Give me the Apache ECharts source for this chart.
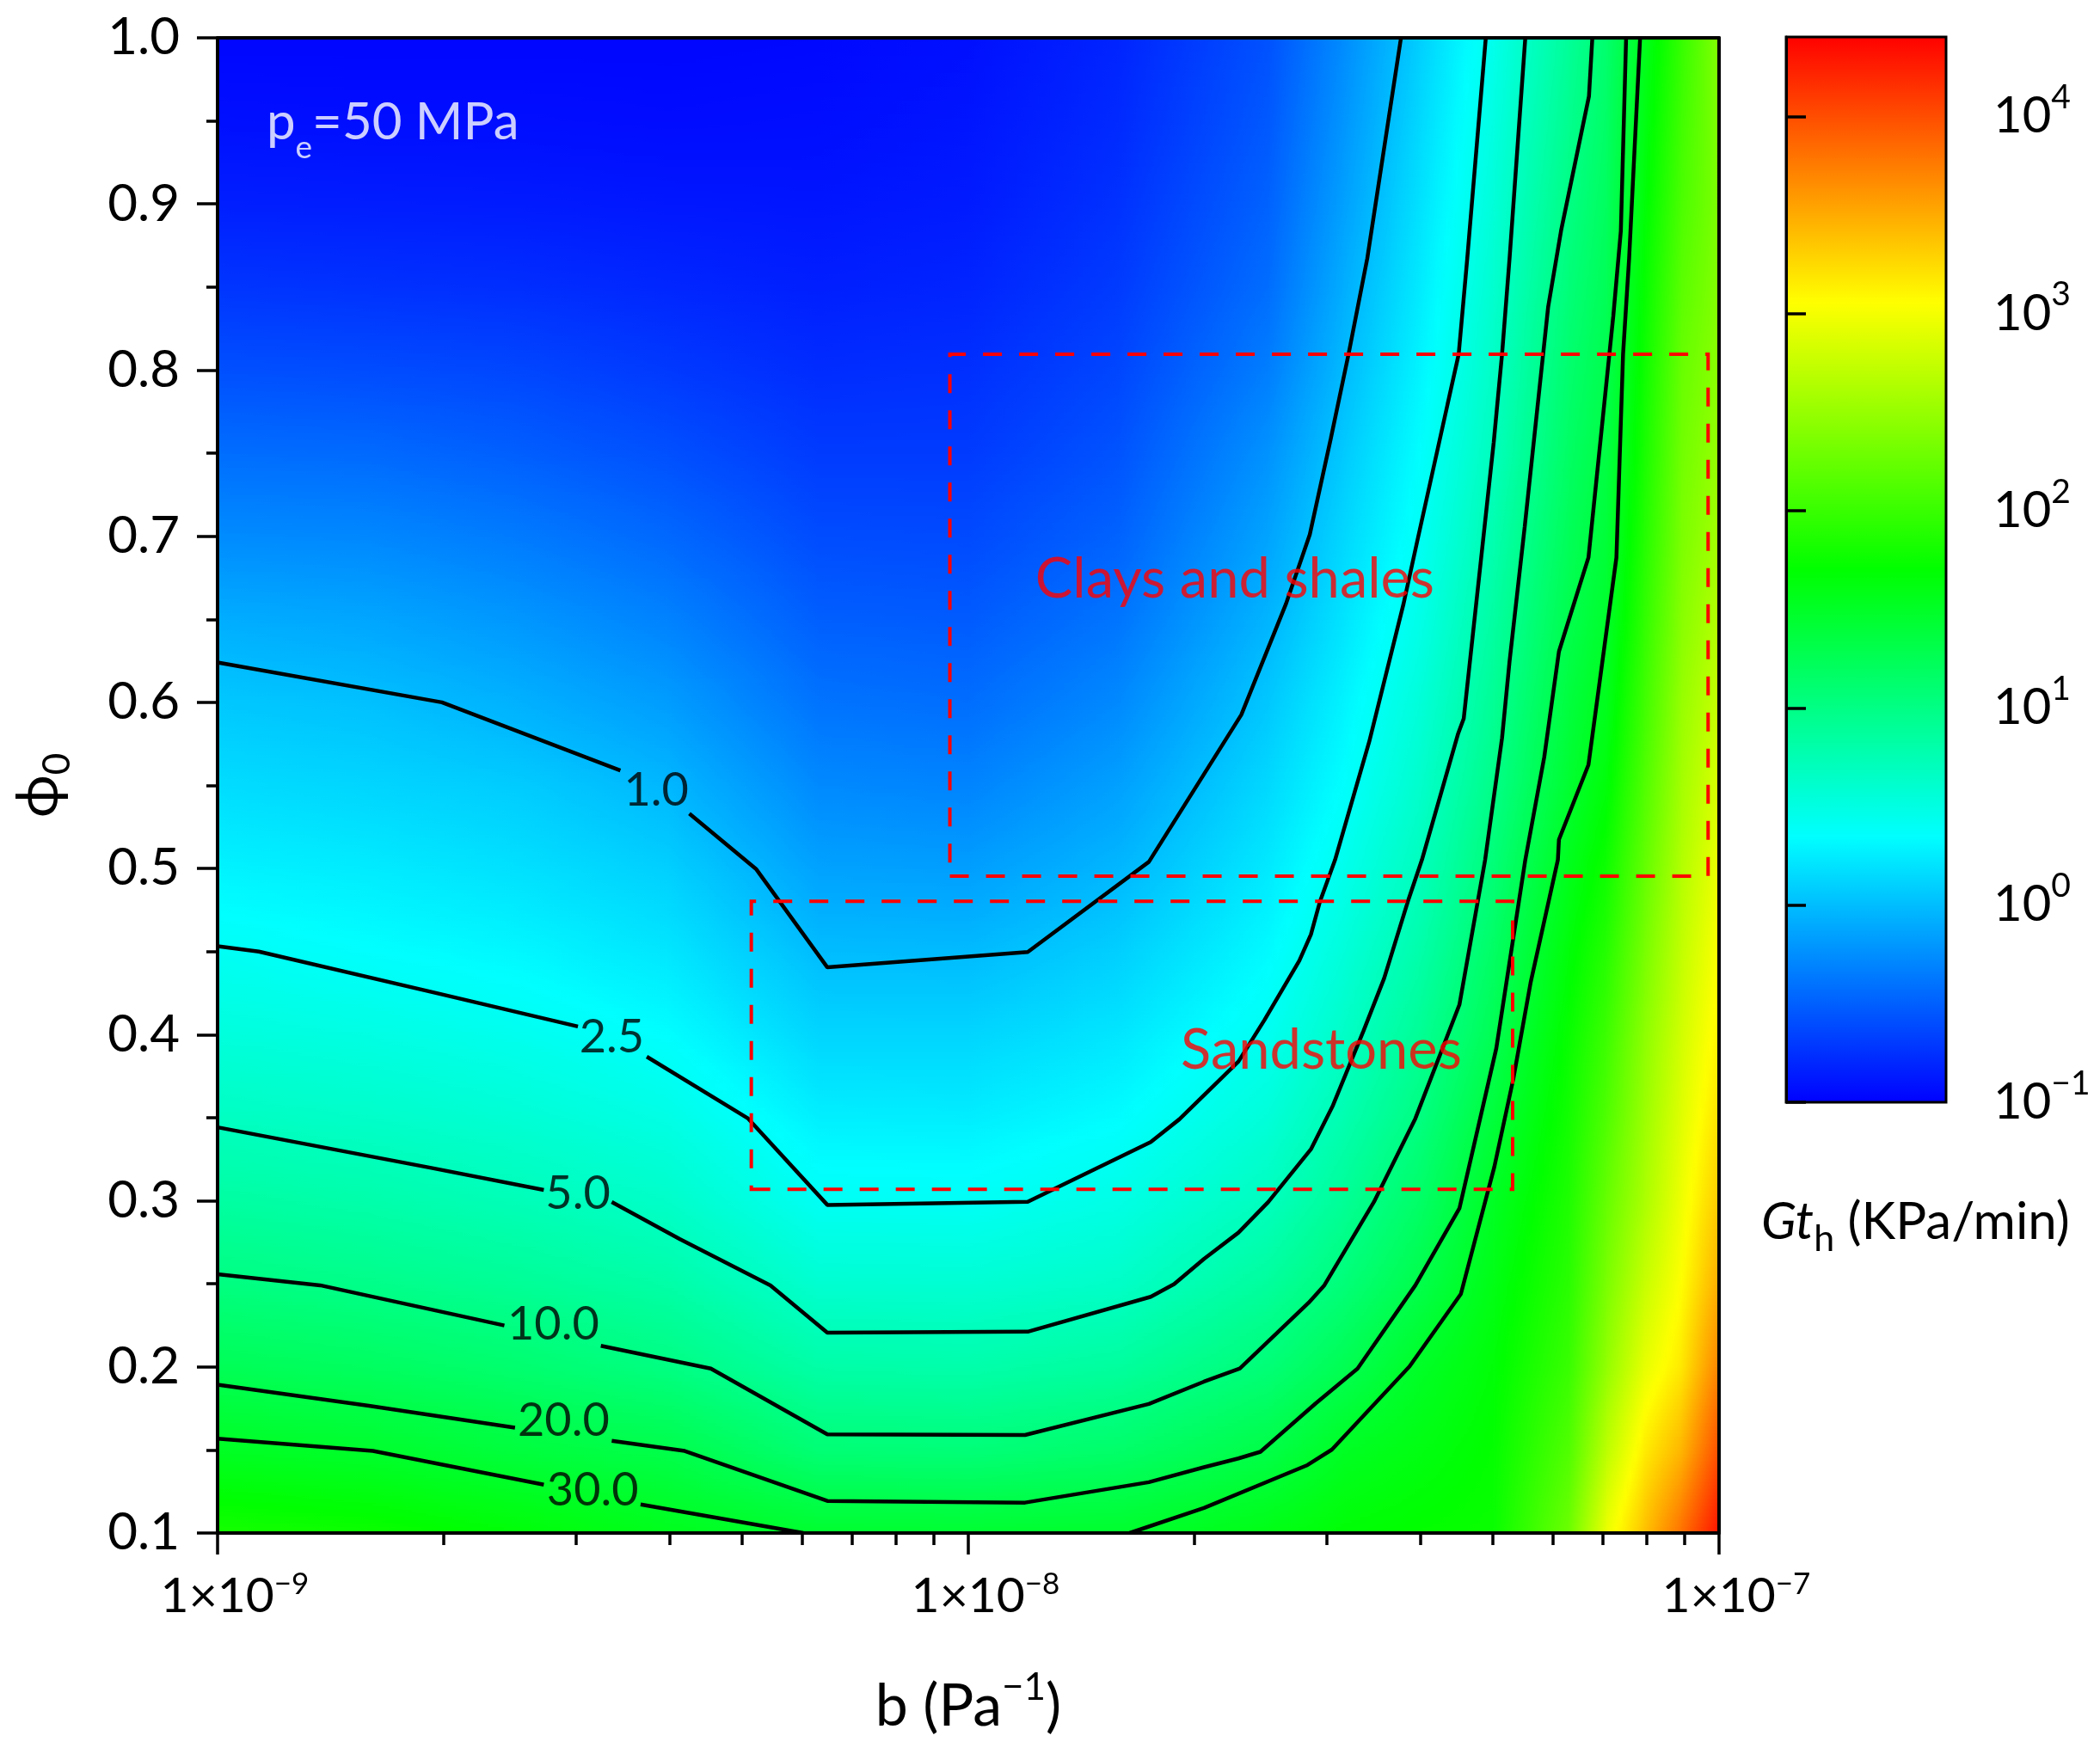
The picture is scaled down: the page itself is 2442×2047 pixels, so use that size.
<!DOCTYPE html>
<html>
<head>
<meta charset="utf-8">
<title>Gth vs b and phi0</title>
<script src="https://cdn.jsdelivr.net/npm/echarts@6/dist/echarts.min.js"></script>
<style>
html, body { margin: 0; padding: 0; background: #fff; }
#main { width: 2442px; height: 2047px; }
</style>
</head>
<body>
<div id="main"></div>
<script>
//contour map of Gt_h over b and phi0, pe = 50 MPa
var FONT = 'Lato, "Open Sans", "DejaVu Sans", sans-serif';

//grid nodes of the background field (b in 1/Pa, phi0)
var bNodes = [1e-9, 1.585e-9, 2.512e-9, 3.981e-9, 6.310e-9, 1e-8, 1.585e-8, 2.512e-8,
  3.162e-8, 3.981e-8, 5.012e-8, 6.310e-8, 7.079e-8, 7.943e-8, 8.913e-8, 1e-7];
var phiNodes = [0.10, 0.15, 0.20, 0.25, 0.30, 0.35, 0.40, 0.45, 0.50, 0.55,
  0.60, 0.65, 0.70, 0.75, 0.80, 0.85, 0.90, 0.95, 1.00];
var logGt = [
  [1.82, 1.77, 1.67, 1.56, 1.46, 1.45, 1.47, 1.60, 1.68, 1.72, 1.75, 2.28, 2.95, 3.38, 3.82, 4.32],
  [1.52, 1.47, 1.38, 1.31, 1.09, 1.07, 1.15, 1.33, 1.52, 1.61, 1.72, 2.13, 2.70, 3.15, 3.45, 4.00],
  [1.25, 1.20, 1.12, 1.02, 0.82, 0.80, 0.87, 1.08, 1.27, 1.50, 1.67, 2.00, 2.48, 2.92, 3.18, 3.72],
  [1.03, 0.98, 0.91, 0.82, 0.60, 0.59, 0.65, 0.88, 1.07, 1.31, 1.60, 1.92, 2.35, 2.75, 3.06, 3.50],
  [0.85, 0.80, 0.73, 0.64, 0.41, 0.40, 0.49, 0.70, 0.91, 1.16, 1.52, 1.86, 2.24, 2.60, 2.97, 3.34],
  [0.68, 0.64, 0.58, 0.49, 0.27, 0.26, 0.34, 0.56, 0.77, 1.02, 1.40, 1.80, 2.12, 2.52, 2.89, 3.22],
  [0.54, 0.50, 0.44, 0.35, 0.13, 0.13, 0.22, 0.43, 0.65, 0.91, 1.27, 1.74, 2.02, 2.44, 2.81, 3.12],
  [0.41, 0.36, 0.31, 0.22, 0.00, -0.01, 0.10, 0.33, 0.55, 0.80, 1.18, 1.66, 1.90, 2.33, 2.73, 3.04],
  [0.29, 0.25, 0.19, 0.10, -0.14, -0.16, -0.03, 0.24, 0.45, 0.70, 1.08, 1.56, 1.78, 2.22, 2.65, 2.96],
  [0.17, 0.13, 0.08, -0.03, -0.27, -0.30, -0.15, 0.15, 0.36, 0.62, 0.99, 1.45, 1.66, 2.12, 2.57, 2.86],
  [0.06, 0.02, -0.06, -0.17, -0.39, -0.42, -0.27, 0.06, 0.29, 0.55, 0.92, 1.38, 1.56, 2.03, 2.50, 2.76],
  [-0.08, -0.12, -0.20, -0.31, -0.50, -0.52, -0.38, -0.04, 0.21, 0.47, 0.85, 1.30, 1.47, 1.95, 2.42, 2.66],
  [-0.26, -0.28, -0.35, -0.45, -0.60, -0.61, -0.48, -0.13, 0.14, 0.40, 0.78, 1.24, 1.41, 1.88, 2.35, 2.57],
  [-0.42, -0.44, -0.50, -0.58, -0.69, -0.69, -0.56, -0.22, 0.07, 0.35, 0.71, 1.18, 1.35, 1.82, 2.30, 2.50],
  [-0.58, -0.60, -0.63, -0.70, -0.77, -0.75, -0.63, -0.33, -0.01, 0.29, 0.66, 1.13, 1.30, 1.77, 2.25, 2.44],
  [-0.72, -0.74, -0.76, -0.80, -0.84, -0.81, -0.69, -0.42, -0.08, 0.24, 0.61, 1.07, 1.25, 1.72, 2.18, 2.40],
  [-0.84, -0.85, -0.86, -0.88, -0.89, -0.86, -0.74, -0.48, -0.15, 0.19, 0.56, 1.01, 1.21, 1.66, 2.10, 2.37],
  [-0.92, -0.93, -0.93, -0.94, -0.93, -0.89, -0.78, -0.53, -0.21, 0.14, 0.51, 0.95, 1.17, 1.60, 2.04, 2.38],
  [-0.97, -0.97, -0.97, -0.97, -0.96, -0.92, -0.81, -0.57, -0.26, 0.09, 0.46, 0.90, 1.13, 1.55, 1.98, 2.40]
];

//contour lines [b, phi0]; '-' leaves the gap where the level label sits
var contour1 = [[1.00e-9, 0.624], [1.99e-9, 0.600], [3.44e-9, 0.559], [3.84e-9, '-'], [4.25e-9, 0.533],
  [5.22e-9, 0.4995], [6.49e-9, 0.4405], [1.20e-8, 0.4497], [1.74e-8, 0.504], [2.31e-8, 0.5925],
  [2.65e-8, 0.6594], [2.85e-8, 0.701], [3.04e-8, 0.7588], [3.21e-8, 0.8096], [3.40e-8, 0.8673], [3.77e-8, 1.0]];
var contour2p5 = [[1.00e-9, 0.4532], [1.135e-9, 0.450], [1.97e-9, 0.4247], [3.02e-9, 0.4049], [3.35e-9, '-'],
  [3.73e-9, 0.3867], [5.09e-9, 0.3495], [6.49e-9, 0.2975], [1.20e-8, 0.2994], [1.75e-8, 0.3353],
  [1.91e-8, 0.349], [2.29e-8, 0.3838], [2.48e-8, 0.4088], [2.76e-8, 0.4445], [2.86e-8, 0.4603],
  [2.94e-8, 0.480], [3.08e-8, 0.5052], [3.42e-8, 0.5763], [3.80e-8, 0.6594], [3.96e-8, 0.6964],
  [4.35e-8, 0.7796], [4.50e-8, 0.8096], [4.62e-8, 0.8673], [4.89e-8, 1.0]];
var contour5 = [[1.00e-9, 0.3442], [1.92e-9, 0.3199], [2.72e-9, 0.3065], [3.02e-9, '-'], [3.35e-9, 0.2993],
  [4.13e-9, 0.2769], [5.45e-9, 0.2491], [6.49e-9, 0.2206], [1.20e-8, 0.2212], [1.75e-8, 0.2422],
  [1.88e-8, 0.2498], [2.06e-8, 0.265], [2.29e-8, 0.2808], [2.51e-8, 0.2993], [2.86e-8, 0.331],
  [3.06e-8, 0.3574], [3.36e-8, 0.4022], [3.58e-8, 0.4339], [3.85e-8, 0.4801], [4.02e-8, 0.5052],
  [4.49e-8, 0.5809], [4.57e-8, 0.5902], [5.01e-8, 0.7564], [5.14e-8, 0.8096], [5.26e-8, 0.8673], [5.52e-8, 1.0]];
var contour10 = [[1.00e-9, 0.2558], [1.37e-9, 0.2491], [2.41e-9, 0.2249], [2.80e-9, '-'], [3.24e-9, 0.2127],
  [4.54e-9, 0.199], [6.49e-9, 0.1594], [1.19e-8, 0.159], [1.74e-8, 0.1777], [2.06e-8, 0.1911],
  [2.30e-8, 0.199], [2.84e-8, 0.2386], [2.98e-8, 0.2491], [3.47e-8, 0.2993], [3.94e-8, 0.3495],
  [4.51e-8, 0.418], [4.88e-8, 0.5052], [5.14e-8, 0.5786], [5.26e-8, 0.6248], [5.51e-8, 0.7056],
  [5.92e-8, 0.8378], [6.16e-8, 0.8839], [6.71e-8, 0.9648], [6.78e-8, 1.0]];
var contour20 = [[1.00e-9, 0.1893], [1.59e-9, 0.1766], [2.49e-9, 0.1634], [2.89e-9, '-'], [3.35e-9, 0.1555],
  [4.19e-9, 0.1494], [6.49e-9, 0.1193], [1.19e-8, 0.1183], [1.74e-8, 0.1306], [2.06e-8, 0.1396],
  [2.29e-8, 0.1449], [2.45e-8, 0.1489], [2.90e-8, 0.1779], [3.30e-8, 0.199], [3.94e-8, 0.2491],
  [4.51e-8, 0.2954], [5.05e-8, 0.3917], [5.52e-8, 0.5052], [5.85e-8, 0.567], [6.12e-8, 0.6306],
  [6.70e-8, 0.6872], [7.23e-8, 0.8326], [7.40e-8, 0.8839], [7.52e-8, 1.0]];
var contour30 = [[1.00e-9, 0.1568], [1.61e-9, 0.1494], [2.72e-9, 0.1291], [3.16e-9, '-'], [3.66e-9, 0.1172],
  [6.03e-9, 0.1], [1.0e-8, '-'], [1.64e-8, 0.1], [2.06e-8, 0.1151], [2.83e-8, 0.1409], [3.05e-8, 0.1502],
  [3.87e-8, 0.2003], [4.53e-8, 0.2439], [5.02e-8, 0.3204], [5.32e-8, 0.3732], [5.61e-8, 0.4312],
  [6.10e-8, 0.5052], [6.12e-8, 0.5174], [6.70e-8, 0.5624], [7.30e-8, 0.6872], [7.45e-8, 0.8096],
  [7.59e-8, 0.8673], [7.85e-8, 1.0]];
var contours = [contour1, contour2p5, contour5, contour10, contour20, contour30];

//level labels and where they sit
var levelLabels = ['1.0', '2.5', '5.0', '10.0', '20.0', '30.0'];
var levelPos = [[3.84e-9, 0.547], [3.35e-9, 0.3983], [3.02e-9, 0.3043], [2.80e-9, 0.2254], [2.89e-9, 0.1673], [3.16e-9, 0.1256]];

//dashed boxes [[b, phi0], [b, phi0]]
var clayBox = [[9.45e-9, 0.4954], [9.67e-8, 0.8096]];
var sandBox = [[5.14e-9, 0.3069], [5.31e-8, 0.4802]];
var notePos = [[1.162e-9, 0.949], [1.228e-8, 0.6738], [1.919e-8, 0.3905]];

//tick values
var bMajor = [1e-9, 1e-8, 1e-7];
var bMinor = [2e-9, 3e-9, 4e-9, 5e-9, 6e-9, 7e-9, 8e-9, 9e-9, 2e-8, 3e-8, 4e-8, 5e-8, 6e-8, 7e-8, 8e-8, 9e-8];
var cbTicks = [0.1, 1, 10, 100, 1000, 10000];

//colour scale (log10 Gt_h) : blue - cyan - green - yellow - red
var cbStops = [-1, 0.351, 1.702, 3.053, 4.404];
var cbColors = [[0, 0, 255], [0, 255, 255], [0, 255, 0], [255, 255, 0], [255, 0, 0]];
var cbMin = Math.pow(10, cbStops[0]);
var cbMax = Math.pow(10, cbStops[cbStops.length - 1]);

function rgbStr(c) {
	return 'rgb(' + Math.round(c[0]) + ',' + Math.round(c[1]) + ',' + Math.round(c[2]) + ')';
}
function gtColor(v) {
	if (v <= cbStops[0]) return rgbStr(cbColors[0]);
	for (var k = 1; k < cbStops.length; k++) {
		if (v <= cbStops[k]) {
			var f = (v - cbStops[k - 1]) / (cbStops[k] - cbStops[k - 1]);
			var a = cbColors[k - 1], c = cbColors[k];
			return rgbStr([a[0] + (c[0] - a[0]) * f, a[1] + (c[1] - a[1]) * f, a[2] + (c[2] - a[2]) * f]);
		}
	}
	return rgbStr(cbColors[cbColors.length - 1]);
}
function supText(e) {
	return e < 0 ? '\u2212' + (-e) : '' + e;
}

//cells of the field, each with its 4 corner values
var fieldCells = [];
for (var j = 0; j < phiNodes.length - 1; j++) {
	for (var i = 0; i < bNodes.length - 1; i++) {
		fieldCells.push([bNodes[i], phiNodes[j], bNodes[i + 1], phiNodes[j + 1],
			logGt[j][i], logGt[j][i + 1], logGt[j + 1][i], logGt[j + 1][i + 1]]);
	}
}

//draw one cell as thin strips shaded between its corners
function renderCell(params, api) {
	var p0 = api.coord([api.value(0), api.value(1)]);
	var p1 = api.coord([api.value(2), api.value(3)]);
	var v00 = api.value(4), v10 = api.value(5), v01 = api.value(6), v11 = api.value(7);
	var n = 24;
	var w = p1[0] - p0[0];
	var h = (p0[1] - p1[1]) / n;
	var kids = [];
	for (var k = 0; k < n; k++) {
		var t = (k + 0.5) / n;
		var vl = v00 + (v01 - v00) * t;
		var vr = v10 + (v11 - v10) * t;
		var stops = [];
		for (var s = 0; s <= 8; s++) {
			stops.push({ offset: s / 8, color: gtColor(vl + (vr - vl) * s / 8) });
		}
		kids.push({
			type: 'rect',
			shape: { x: p0[0], y: p0[1] - (k + 1) * h, width: w + 0.8, height: h + 0.8 },
			style: { fill: new echarts.graphic.LinearGradient(0, 0, 1, 0, stops) }
		});
	}
	return { type: 'group', children: kids };
}

//colour bar
function renderBar(params, api) {
	var a = api.coord([api.value(0), api.value(1)]);
	var c = api.coord([api.value(2), api.value(3)]);
	var span = cbStops[cbStops.length - 1] - cbStops[0];
	var stops = [];
	for (var k = 0; k < cbStops.length; k++) {
		stops.push({ offset: (cbStops[k] - cbStops[0]) / span, color: rgbStr(cbColors[k]) });
	}
	return {
		type: 'rect',
		shape: { x: a[0], y: c[1], width: c[0] - a[0], height: a[1] - c[1] },
		style: { fill: new echarts.graphic.LinearGradient(0, 1, 0, 0, stops), stroke: '#000', lineWidth: 3 }
	};
}

var container = echarts.init(document.getElementById('main'));

var series = [];
series.push({
	type: 'custom',
	name: 'field',
	renderItem: renderCell,
	data: fieldCells,
	encode: { x: [0, 2], y: [1, 3] },
	clip: true,
	silent: true,
	z: 1
});
for (var c = 0; c < contours.length; c++) {
	series.push({
		type: 'line',
		name: 'Gt ' + levelLabels[c],
		data: contours[c],
		symbol: 'none',
		connectNulls: false,
		lineStyle: { color: '#000', width: 4.5 },
		silent: true,
		z: 3
	});
}
var labelData = [];
for (var k = 0; k < levelLabels.length; k++) {
	labelData.push({ name: levelLabels[k], value: levelPos[k] });
}
series.push({
	type: 'scatter',
	name: 'levels',
	data: labelData,
	symbolSize: 0,
	silent: true,
	z: 4,
	label: {
		show: true, position: [0, 0], align: 'center', verticalAlign: 'middle',
		formatter: '{b}', fontSize: 54, color: '#000', fontFamily: FONT
	}
});
series.push({
	type: 'scatter',
	name: 'notes',
	symbolSize: 0,
	silent: true,
	z: 5,
	data: [
		{ value: notePos[0], label: { formatter: '{m|p}{s|e}{m|=50 MPa}', color: '#fff',
			rich: { m: { fontSize: 60, lineHeight: 96, color: '#fff', verticalAlign: 'middle', fontFamily: FONT },
				s: { fontSize: 37, lineHeight: 37, color: '#fff', verticalAlign: 'bottom', fontFamily: FONT } } } },
		{ value: notePos[1], label: { formatter: 'Clays and shales', color: '#ff0000', fontSize: 65 } },
		{ value: notePos[2], label: { formatter: 'Sandstones', color: '#ff0000', fontSize: 65 } }
	],
	label: { show: true, position: [0, 0], align: 'left', verticalAlign: 'middle', fontFamily: FONT },
	markArea: {
		silent: true,
		z: 6,
		label: { show: false },
		itemStyle: { color: 'rgba(0,0,0,0)', borderColor: '#ff0000', borderWidth: 4, borderType: [22, 20] },
		data: [
			[{ coord: clayBox[0] }, { coord: clayBox[1] }],
			[{ coord: sandBox[0] }, { coord: sandBox[1] }]
		]
	}
});
series.push({
	type: 'custom',
	name: 'colorbar',
	xAxisIndex: 3,
	yAxisIndex: 1,
	renderItem: renderBar,
	data: [[0, cbMin, 1, cbMax]],
	encode: { x: [0, 2], y: [1, 3] },
	silent: true,
	z: 2
});

var black = { color: '#000', width: 3.5 };
option = {
	animation: false,
	backgroundColor: '#fff',
	textStyle: { fontFamily: FONT },
	title: {
		text: '{i|Gt}{s|h}{n| (KPa/min)}',
		left: 2048,
		top: 1381,
		padding: 0,
		textStyle: {
			fontWeight: 'normal',
			rich: {
				i: { fontSize: 60, fontStyle: 'italic', fontWeight: 'normal', lineHeight: 82, color: '#000', verticalAlign: 'middle', fontFamily: FONT },
				s: { fontSize: 43, fontWeight: 'normal', lineHeight: 43, color: '#000', verticalAlign: 'bottom', fontFamily: FONT },
				n: { fontSize: 60, fontWeight: 'normal', lineHeight: 82, color: '#000', verticalAlign: 'middle', fontFamily: FONT }
			}
		}
	},
	grid: [
		{ left: 253, top: 44, width: 1746, height: 1739, outerBoundsMode: 'none' },
		{ left: 2077, top: 43, width: 186, height: 1239, outerBoundsMode: 'none' }
	],
	xAxis: [
		{
			type: 'log', gridIndex: 0, min: 1e-9, max: 1e-7, position: 'bottom', z: 10,
			axisLine: { show: true, lineStyle: { color: '#000', width: 4 } },
			axisTick: { show: true, length: 25, customValues: bMajor, lineStyle: black },
			axisLabel: {
				show: true, margin: 42, customValues: bMajor,
				formatter: function (v) {
					var e = Math.round(Math.log(v) / Math.LN10);
					return '{pad| }{n|1\u00d710}{sup|' + supText(e) + '}';
				},
				rich: {
					pad: { width: 40, fontSize: 35 },
					n: { fontSize: 57, lineHeight: 64, color: '#000', verticalAlign: 'middle', fontFamily: FONT },
					sup: { fontSize: 35, lineHeight: 35, color: '#000', verticalAlign: 'top', fontFamily: FONT }
				}
			},
			splitLine: { show: false },
			name: '{n|b (Pa}{sup|\u22121}{n|)}',
			nameLocation: 'middle',
			nameGap: 158,
			nameTextStyle: {
				rich: {
					n: { fontSize: 68, lineHeight: 89, color: '#000', verticalAlign: 'middle', fontFamily: FONT },
					sup: { fontSize: 44, lineHeight: 44, color: '#000', verticalAlign: 'top', fontFamily: FONT }
				}
			}
		},
		{
			type: 'log', gridIndex: 0, min: 1e-9, max: 1e-7, position: 'bottom', z: 10,
			axisLine: { show: false },
			axisTick: { show: true, length: 14, customValues: bMinor, lineStyle: black },
			axisLabel: { show: false },
			splitLine: { show: false }
		},
		{
			type: 'log', gridIndex: 0, min: 1e-9, max: 1e-7, position: 'top', z: 10,
			axisLine: { show: true, lineStyle: { color: '#000', width: 4 } },
			axisTick: { show: false }, axisLabel: { show: false }, splitLine: { show: false }
		},
		{
			type: 'value', gridIndex: 1, min: 0, max: 1, show: false
		}
	],
	yAxis: [
		{
			type: 'value', gridIndex: 0, min: 0.1, max: 1.0, interval: 0.1, position: 'left', z: 10,
			axisLine: { show: true, lineStyle: { color: '#000', width: 4 } },
			axisTick: { show: true, length: 24, lineStyle: black },
			minorTick: { show: true, splitNumber: 2, length: 13, lineStyle: black },
			axisLabel: {
				show: true, margin: 44, fontSize: 60, color: '#000', fontFamily: FONT,
				formatter: function (v) { return v.toFixed(1); }
			},
			splitLine: { show: false },
			minorSplitLine: { show: false },
			name: '{n|\u03d5}{s|0}',
			nameLocation: 'middle',
			nameRotate: 90,
			nameGap: 164,
			nameTextStyle: {
				rich: {
					n: { fontSize: 68, lineHeight: 87, color: '#000', verticalAlign: 'middle', fontFamily: FONT },
					s: { fontSize: 44, lineHeight: 44, color: '#000', verticalAlign: 'bottom', fontFamily: FONT }
				}
			}
		},
		{
			type: 'log', gridIndex: 1, min: cbMin, max: cbMax, position: 'right', z: 10,
			axisLine: { show: true, lineStyle: { color: '#000', width: 3 } },
			axisTick: { show: true, length: 23, customValues: cbTicks, lineStyle: black },
			axisLabel: {
				show: true, margin: 55, customValues: cbTicks,
				formatter: function (v) {
					var e = Math.round(Math.log(v) / Math.LN10);
					return '{n|10}{sup|' + supText(e) + '}';
				},
				rich: {
					n: { fontSize: 58, lineHeight: 83, color: '#000', verticalAlign: 'middle', fontFamily: FONT },
					sup: { fontSize: 39, lineHeight: 39, color: '#000', verticalAlign: 'top', fontFamily: FONT }
				}
			},
			splitLine: { show: false }
		},
		{
			type: 'value', gridIndex: 0, min: 0.1, max: 1.0, position: 'right', z: 10,
			axisLine: { show: true, lineStyle: { color: '#000', width: 4 } },
			axisTick: { show: false }, axisLabel: { show: false }, splitLine: { show: false }
		}
	],
	series: series
};
container.setOption(option, true);
</script>
</body>
</html>
